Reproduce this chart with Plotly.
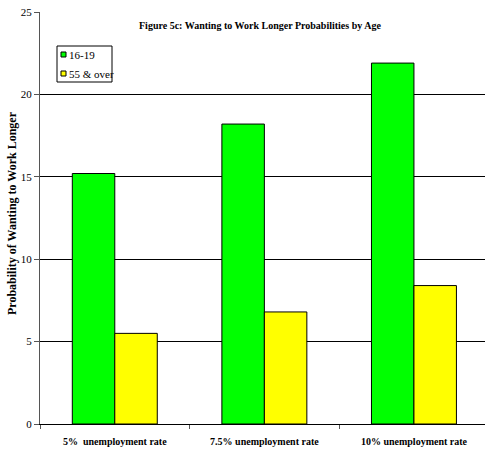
import plotly.graph_objects as go

# Chart data
categories = ["5%\u00a0 unemployment rate", "7.5% unemployment rate", "10% unemployment rate"]
series_names = ["16-19", "55 & over"]
teen_values = [15.2, 18.2, 21.9]
older_values = [5.5, 6.8, 8.4]
series_colors = ["#00FF00", "#FFFF00"]

W, H = 485, 452
L, R_EDGE, T, B = 40, 485, 12, 424   # plot area in pixels


def px_x(px):
    return (px - L) / (R_EDGE - L)


def px_y(py):
    return (B - py) / (B - T)


SERIF = "Liberation Serif"

fig = go.Figure()
for name, vals, col in zip(series_names, [teen_values, older_values], series_colors):
    fig.add_trace(go.Bar(
        x=categories, y=vals, name=name,
        marker=dict(color=col, line=dict(color="#000000", width=1)),
        showlegend=False,
    ))

fig.update_layout(
    width=W, height=H,
    margin=dict(l=L, r=W - R_EDGE, t=T, b=H - B, pad=0),
    paper_bgcolor="white", plot_bgcolor="white",
    barmode="group", bargap=0.432, bargroupgap=0,
    font=dict(family=SERIF, color="black", size=11),
    xaxis=dict(
        type="category", range=[-0.5, 2.475],
        showgrid=False, showline=True, linecolor="#000000", linewidth=1,
        ticks="outside", tickson="boundaries", ticklen=4, tickcolor="#555555",
        ticklabelstandoff=8,
        tickfont=dict(family=SERIF, size=10, color="black", weight="bold"),
    ),
    yaxis=dict(
        range=[0, 25], dtick=5, tick0=0,
        showgrid=True, gridcolor="#000000", gridwidth=1,
        showline=True, linecolor="#555555", linewidth=1,
        ticks="outside", ticklen=5, tickcolor="#555555",
        tickfont=dict(family=SERIF, size=11, color="black"),
        zeroline=False,
    ),
)

# Y-axis title
fig.add_annotation(
    xref="paper", yref="paper", x=px_x(12), y=px_y(213),
    text="<b>Probability of Wanting to Work Longer</b>",
    showarrow=False, textangle=-90, xanchor="center", yanchor="middle",
    font=dict(family=SERIF, size=12, color="black"),
)

# Chart title
fig.add_annotation(
    xref="paper", yref="paper", x=px_x(260), y=px_y(26),
    text="<b>Figure 5c: Wanting to Work Longer Probabilities by Age</b>",
    showarrow=False, xanchor="center", yanchor="middle",
    font=dict(family=SERIF, size=10, color="black"),
)

# Legend box
shapes = [dict(type="rect", xref="paper", yref="paper",
               x0=px_x(57), x1=px_x(112), y0=px_y(82), y1=px_y(46),
               line=dict(color="#000000", width=1), fillcolor="white", layer="above")]
for i, (name, col) in enumerate(zip(series_names, series_colors)):
    cy = 54.5 + i * 19
    shapes.append(dict(type="rect", xref="paper", yref="paper",
                       x0=px_x(61), x1=px_x(66), y0=px_y(cy + 2.5), y1=px_y(cy - 2.5),
                       line=dict(color="#000000", width=1), fillcolor=col, layer="above"))
    fig.add_annotation(
        xref="paper", yref="paper", x=px_x(66.5), y=px_y(cy),
        text=name, showarrow=False, xanchor="left", yanchor="middle",
        font=dict(family=SERIF, size=11, color="black"),
    )
fig.update_layout(shapes=shapes)

fig.write_html("out.html")
